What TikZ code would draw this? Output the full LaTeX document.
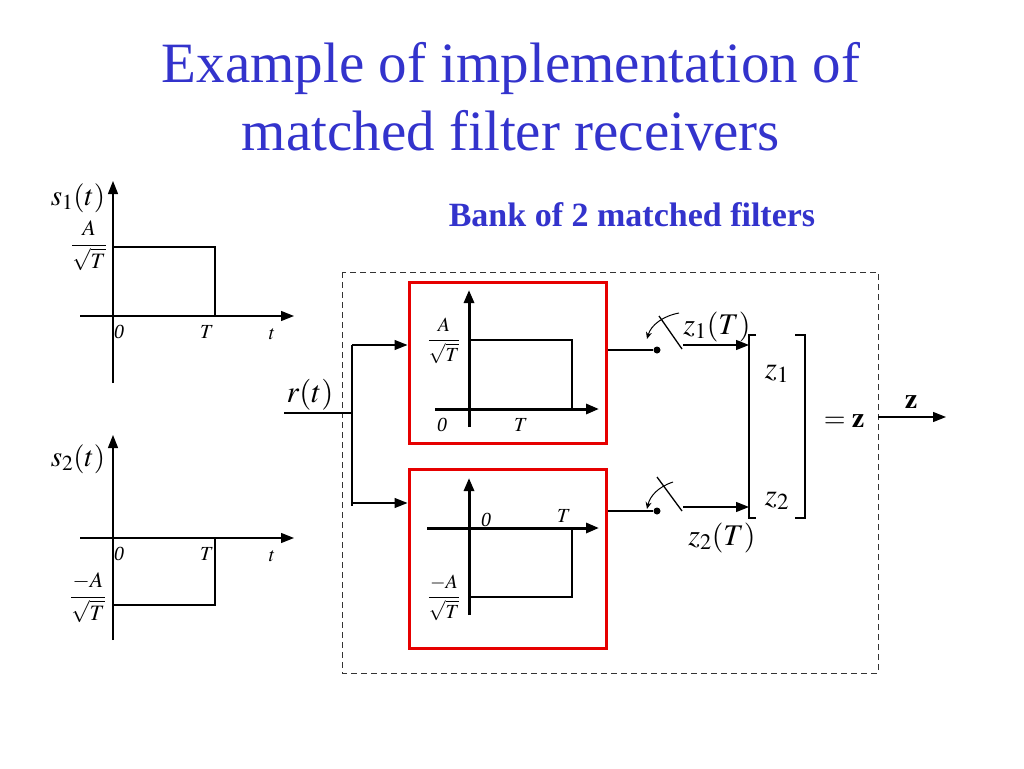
\documentclass[tikz,border=0pt]{standalone}
\usepackage{mathptmx}
\usepackage{fontspec}
\setmainfont{Liberation Serif}
\usetikzlibrary{arrows.meta}
\definecolor{titleblue}{RGB}{51,51,204}
\definecolor{boxred}{RGB}{230,0,0}
\tikzset{
  thinl/.style={line width=1.3pt},
  thickl/.style={line width=3pt},
  arr/.style={-{Triangle[length=13pt,width=10pt]}},
  redbox/.style={draw=boxred,line width=3pt},
  lab/.style={inner sep=0pt,anchor=base},
  fs/.style={font=\fontsize{#1}{#1}\selectfont},
}
\begin{document}
\begin{tikzpicture}[x=1pt,y=-1pt]
\useasboundingbox (0,0) rectangle (1024,768);
% title
\node[lab,fs=57,text=titleblue] (t1) at (511,82) {Example of implementation of};
\node[lab,fs=57,text=titleblue] (t2) at (511,150) {matched filter receivers};
\node[lab,text=titleblue,font=\fontsize{34}{34}\selectfont\bfseries] (bank) at (632,226) {Bank of 2 matched filters};

% ---- s1(t) plot
\draw[thinl,arr] (113,383) -- (113,181);
\draw[thinl,arr] (80,316) -- (294,316);
\draw[thinl] (113,247) -- (215,247) -- (215,316);
\node[lab,fs=29] (s1) at (78,205) {$s_1(t)$};
\node[fs=22,inner sep=0pt] (f1) at (89,246) {$\displaystyle\frac{A}{\sqrt{T}}$};
\node[lab,fs=20] (o1) at (119,338) {\itshape 0};
\node[lab,fs=20] (T1) at (207,338) {$T$};
\node[lab,fs=20] (ta) at (272,339) {$t$};

% ---- s2(t) plot
\draw[thinl,arr] (113,640) -- (113,435);
\draw[thinl,arr] (80,538) -- (294,538);
\draw[thinl] (113,605) -- (215,605) -- (215,538);
\node[lab,fs=29] (s2) at (78,466) {$s_2(t)$};
\node[fs=22,inner sep=0pt] (f2) at (88,598) {$\displaystyle\frac{-A}{\sqrt{T}}$};
\node[lab,fs=20] (o2) at (119,560) {\itshape 0};
\node[lab,fs=20] (T2) at (207,560) {$T$};
\node[lab,fs=20] (tb) at (272,561) {$t$};

% ---- dashed bank
\draw[line width=1pt,dash pattern=on 6pt off 4pt,black!80] (342,272) rectangle (878,673);

% ---- input
\node[lab,fs=31] (r) at (310,402) {$r(t)$};
\coordinate (in) at (284,413);
\coordinate (sp) at (352,413);
\coordinate (bt) at (352,345);
\coordinate (bb) at (352,506);
\draw[thinl] (in) -- (sp);
\draw[thinl] (bt) -- (bb);

% ---- red boxes
\node[redbox,minimum width=197pt,minimum height=161pt,inner sep=0pt] (mf1) at (507.5,362.5) {};
\node[redbox,minimum width=197pt,minimum height=179pt,inner sep=0pt] (mf2) at (507.5,558.5) {};
\draw[thinl,arr] (bt) -- (bt -| mf1.west);
\draw[thinl,arr] (352,503) -- (352,503 -| mf2.west);

% box 1 contents
\draw[thickl,arr] (469,427) -- (469,290);
\draw[thickl,arr] (435,409) -- (599,409);
\draw[thinl] (469,340) -- (572,340) -- (572,409);
\node[fs=20,inner sep=0pt] (f3) at (444,341) {$\displaystyle\frac{A}{\sqrt{T}}$};
\node[lab,fs=20] (o3) at (442,431) {\itshape 0};
\node[lab,fs=20] (T3) at (521,431) {$T$};

% box 2 contents
\draw[thickl,arr] (469,615) -- (469,478);
\draw[thickl,arr] (427,528) -- (599,528);
\draw[thinl] (469,597) -- (572,597) -- (572,528);
\node[fs=20,inner sep=0pt] (f4) at (444,598) {$\displaystyle\frac{-A}{\sqrt{T}}$};
\node[lab,fs=20] (o4) at (486,526) {\itshape 0};
\node[lab,fs=20] (T4) at (564,522) {$T$};

% ---- samplers
\node[circle,fill=black,inner sep=0pt,minimum size=7pt] (d1) at (657,350) {};
\node[circle,fill=black,inner sep=0pt,minimum size=7pt] (d2) at (657,511) {};
\draw[thinl] (mf1.east |- d1) -- (d1);
\draw[thinl] (mf2.east |- d2) -- (d2);
\coordinate (k1a) at (659,316); \coordinate (k1b) at (682,349);
\coordinate (k2a) at (657,477); \coordinate (k2b) at (682,511);
\draw[thinl] (k1a) -- (k1b);
\draw[thinl] (k2a) -- (k2b);
\draw[line width=1pt,-{Stealth[length=7pt,width=6pt]}] (679,313) .. controls (663,316) and (651,325) .. (647,339);
\draw[line width=1pt,-{Stealth[length=7pt,width=6pt]}] (673,482) .. controls (658,487) and (650,496) .. (647,509);

% ---- vector bracket
\coordinate (lbt) at (749,335); \coordinate (lbb) at (749,518);
\draw[thinl] (756,335) -- (lbt) -- (lbb) -- (756,518);
\draw[thinl] (795,335) -- (805,335) -- (805,518) -- (795,518);
\draw[thinl,arr] (683,345) -- (749,345);
\draw[thinl,arr] (683,507) -- (749,507);
\node[lab,fs=30] (z1T) at (717,334) {$z_1(T)$};
\node[lab,fs=30] (z2T) at (722,545) {$z_2(T)$};
\node[lab,fs=31] (z1) at (777,378) {$z_1$};
\node[lab,fs=31] (z2) at (777,505) {$z_2$};
\node[lab,fs=28] (eqz) at (844,427) {$=\mathbf{z}$};

% ---- output
\node[lab,fs=28] (zo) at (911,408) {$\mathbf{z}$};
\coordinate (oa) at (878,417);
\coordinate (ob) at (946,417);
\draw[thinl,arr] (oa) -- (ob);
\end{tikzpicture}
\end{document}
